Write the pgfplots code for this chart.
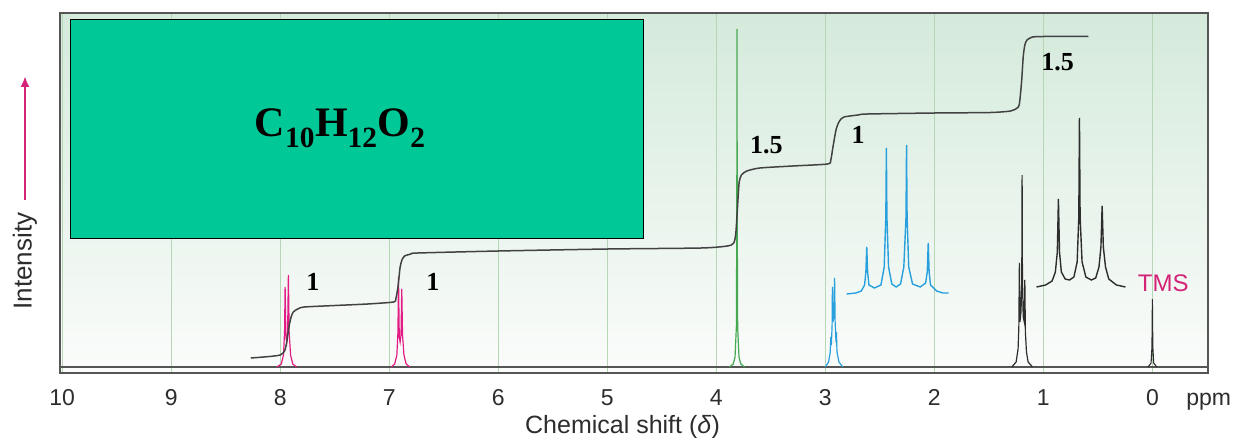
\documentclass[border=0pt]{standalone}
\usepackage{pgfplots}
\pgfplotsset{compat=1.18}
\usetikzlibrary{arrows.meta}
\usepackage{fontspec}
\setmainfont{Liberation Sans}
\newfontfamily\tnr{Liberation Serif}
\definecolor{pinkc}{RGB}{226,28,132}
\definecolor{tmsc}{RGB}{213,35,120}
\definecolor{greenc}{RGB}{70,168,80}
\definecolor{bluec}{RGB}{40,160,222}
\definecolor{darkc}{RGB}{45,45,45}
\definecolor{gridc}{RGB}{182,214,182}
\definecolor{framec}{RGB}{85,85,85}
\definecolor{boxc}{RGB}{0,201,151}
\definecolor{bgtop}{RGB}{212,234,219}
\definecolor{bgbot}{RGB}{251,252,251}
\begin{document}
\begin{tikzpicture}
\begin{axis}[
  name=ax, scale only axis, width=1148pt, height=360pt,
  x dir=reverse, xmin=-0.51, xmax=10.02, ymin=-6, ymax=354,
  axis background/.style={shade, top color=bgtop, bottom color=bgbot},
  xtick={0,1,2,3,4,5,6,7,8,9,10}, ytick=\empty,
  xmajorgrids, grid style={gridc, line width=1pt},
  major tick length=0pt,
  axis line style={draw=framec, line width=1.3pt},
  /pgf/number format/assume math mode=true,
  xticklabel style={font=\fontsize{23}{23}\selectfont, text=darkc, anchor=base, yshift=-32pt},
  clip=false,
]
% spectrum baseline
\addplot[framec, line width=1.3pt] coordinates {(10.02,0) (-0.51,0)};
% aromatic doublet 7.94
\addplot[pinkc, line width=1.2pt] coordinates {(8.03,0) (7.99,3) (7.97,12) (7.96,35) (7.955,80) (7.948,30) (7.94,25) (7.932,35) (7.925,92) (7.918,35) (7.905,12) (7.885,3) (7.85,0)};
% aromatic doublet 6.90
\addplot[pinkc, line width=1.2pt] coordinates {(6.98,0) (6.95,3) (6.93,12) (6.92,35) (6.915,90) (6.908,30) (6.90,25) (6.892,32) (6.885,78) (6.878,32) (6.865,12) (6.845,3) (6.81,0)};
% singlet 3.81
\addplot[greenc, line width=1.2pt] coordinates {(3.88,0) (3.845,3) (3.828,10) (3.816,40) (3.812,150) (3.81,338) (3.808,150) (3.804,40) (3.792,10) (3.775,3) (3.74,0)};
% quartet 2.92
\addplot[bluec, line width=1.2pt] coordinates {(3.0,0) (2.97,5) (2.955,15) (2.95,30) (2.945,22) (2.938,40) (2.935,80) (2.93,45) (2.922,50) (2.915,89) (2.91,45) (2.902,25) (2.898,35) (2.893,15) (2.875,5) (2.84,0)};
% triplet 1.19
\addplot[darkc, line width=1.2pt] coordinates {(1.29,0) (1.25,5) (1.232,18) (1.225,40) (1.22,104) (1.215,45) (1.205,55) (1.198,90) (1.195,192) (1.192,90) (1.185,50) (1.175,45) (1.17,87) (1.165,35) (1.155,15) (1.14,5) (1.10,0)};
% TMS
\addplot[darkc, line width=1.1pt] coordinates {(0.04,0) (0.012,4) (0.004,20) (0,68) (-0.004,20) (-0.012,4) (-0.04,0)};
% expanded quartet (inset)
\addplot[bluec, line width=1.4pt] coordinates {(2.805,73) (2.72,74) (2.67,76) (2.64,82) (2.628,95) (2.62,120) (2.612,95) (2.60,82) (2.55,79) (2.49,82) (2.46,100) (2.445,150) (2.44,219) (2.435,150) (2.42,100) (2.39,83) (2.35,80) (2.31,83) (2.28,100) (2.26,150) (2.255,222) (2.25,150) (2.235,100) (2.20,83) (2.13,80) (2.08,84) (2.065,95) (2.056,124) (2.048,95) (2.035,82) (1.98,76) (1.92,74) (1.87,74)};
% expanded triplet (inset)
\addplot[darkc, line width=1.4pt] coordinates {(1.063,80) (0.98,82) (0.92,86) (0.89,95) (0.872,115) (0.862,168) (0.852,115) (0.835,95) (0.80,88) (0.76,87) (0.72,90) (0.69,105) (0.675,150) (0.669,249) (0.663,150) (0.645,105) (0.61,90) (0.56,87) (0.52,89) (0.49,100) (0.472,120) (0.461,161) (0.45,120) (0.43,100) (0.40,88) (0.33,82) (0.247,80)};
% integration curve
\addplot[darkc!90, line width=1.5pt, smooth, tension=0.4] coordinates {(8.27,9) (8.10,10.5) (8.0,12) (7.96,16) (7.94,25) (7.92,40) (7.90,50) (7.88,55) (7.84,58) (7.78,60) (7.5,61.5) (7.2,63) (6.96,65) (6.94,68) (6.92,80) (6.90,100) (6.88,108) (6.86,111) (6.80,113) (6.74,114) (6.0,116) (5.0,118) (4.14,119) (3.9,121) (3.84,124) (3.82,135) (3.80,170) (3.79,185) (3.77,192) (3.72,196) (3.6,199) (3.3,201) (2.98,203) (2.95,207) (2.93,220) (2.90,238) (2.87,246) (2.83,250) (2.7,252) (2.615,253) (2.0,254) (1.485,254.5) (1.3,256) (1.24,259) (1.22,263) (1.20,285) (1.185,310) (1.17,322) (1.15,327) (1.10,330) (1.0,330.5) (0.587,330.5)};
% formula box
\draw[black, line width=0.8pt, fill=boxc] (axis cs:9.927,348) rectangle (axis cs:4.665,129);
\node[font=\tnr\bfseries\fontsize{42}{42}\selectfont] at (axis cs:7.45,239) {C\textsubscript{10}H\textsubscript{12}O\textsubscript{2}};
% integral labels
\tikzset{lab/.style={font=\tnr\bfseries\fontsize{26}{26}\selectfont, text=black}}
\node[lab] at (axis cs:7.70,85) {1};
\node[lab] at (axis cs:6.60,85) {1};
\node[lab] at (axis cs:3.54,222) {1.5};
\node[lab] at (axis cs:2.70,232) {1};
\node[lab] at (axis cs:0.87,305) {1.5};
\node[font=\fontsize{24}{24}\selectfont, text=tmsc] at (axis cs:-0.10,84) {TMS};
\node[font=\fontsize{23}{23}\selectfont, text=darkc, anchor=base west, inner sep=0pt, yshift=-32pt] at (axis cs:-0.31,-6) {ppm};
\node[font=\fontsize{25}{25}\selectfont, text=darkc, anchor=base, yshift=-60pt] at (axis cs:4.86,-6) {Chemical shift (\textit{δ})};
\end{axis}
\node[font=\fontsize{26}{26}\selectfont, text=darkc, rotate=90] at ([shift={(-35pt,112pt)}]ax.south west) {Intensity};
\draw[tmsc, line width=2.6pt, -{Latex[length=11pt,width=9pt]}] ([shift={(-35pt,173pt)}]ax.south west) -- ([shift={(-35pt,297pt)}]ax.south west);
\pgfresetboundingbox
\path ([shift={(-60pt,-64pt)}]ax.south west) rectangle ([shift={(29pt,13pt)}]ax.north east);
\end{tikzpicture}
\end{document}
